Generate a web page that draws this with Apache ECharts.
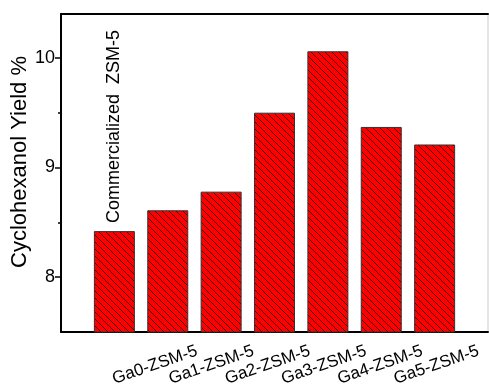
<!DOCTYPE html>
<html>
<head>
<meta charset="utf-8">
<script src="https://cdn.jsdelivr.net/npm/echarts@6/dist/echarts.min.js"></script>
<style>html,body{margin:0;padding:0;background:#fff;}#c{width:489px;height:391px;}</style>
</head>
<body>
<div id="c"></div>
<script>
// ---- data ----
var categories = ['Commercialized  ZSM-5', 'Ga0-ZSM-5', 'Ga1-ZSM-5', 'Ga2-ZSM-5', 'Ga3-ZSM-5', 'Ga4-ZSM-5', 'Ga5-ZSM-5'];
var positions = [1, 2, 3, 4, 5, 6, 7];
var yieldValues = [8.42, 8.61, 8.78, 9.50, 10.06, 9.37, 9.21];
var yTicks = [8, 9, 10];
var yMinorTicks = [8.5, 9.5];
var xLabelNames = ['Ga0-ZSM-5', 'Ga1-ZSM-5', 'Ga2-ZSM-5', 'Ga3-ZSM-5', 'Ga4-ZSM-5', 'Ga5-ZSM-5'];
var xLabelPositions = [2, 3, 4, 5, 6, 7];

// hatch pattern
function makeHatch() {
  var p = 7;
  var cv = document.createElement('canvas');
  cv.width = p; cv.height = p;
  var ctx = cv.getContext('2d');
  ctx.fillStyle = '#ff0000';
  ctx.fillRect(0, 0, p, p);
  ctx.strokeStyle = '#4a0000';
  ctx.lineWidth = 1;
  [-p, 0, p].forEach(function (k) {
    ctx.beginPath();
    ctx.moveTo(k, 0);
    ctx.lineTo(k + p, p);
    ctx.stroke();
  });
  return cv;
}
var hatch = makeHatch();

var font = 'Arial, "Liberation Sans", sans-serif';
var barData = positions.map(function (x, i) {
  var item = { value: [x, yieldValues[i]] };
  if (i === 0) {
    item.label = {
      show: true, position: 'top', rotate: 90, align: 'left', verticalAlign: 'middle',
      distance: 8, offset: [0, 0], formatter: categories[0],
      fontSize: 18, fontFamily: font, color: '#000'
    };
  }
  return item;
});

var chart = echarts.init(document.getElementById('c'), null, { renderer: 'canvas' });
chart.setOption({
  animation: false,
  backgroundColor: '#fff',
  grid: { left: 61, top: 14, right: 1, bottom: 59, show: true, borderColor: '#cccccc', borderWidth: 1, containLabel: false, outerBoundsMode: 'none' },
  xAxis: [
    {
      type: 'value', min: 0, max: 8, position: 'bottom',
      axisLine: { show: true, onZero: false, lineStyle: { color: '#000', width: 2 } },
      axisTick: { show: false }, axisLabel: { show: false }, splitLine: { show: false }
    },
    {
      type: 'value', min: 0.33, max: 7.914, position: 'bottom', gridIndex: 0,
      axisLine: { show: false }, axisTick: { show: false }, splitLine: { show: false },
      axisLabel: {
        show: true, customValues: xLabelPositions, rotate: 19, align: 'center', verticalAlign: 'middle',
        margin: 33, fontSize: 17, fontFamily: font, color: '#000', hideOverlap: false,
        formatter: function (v) {
          var idx = xLabelPositions.indexOf(Math.round(v));
          return idx >= 0 ? xLabelNames[idx] : '';
        }
      }
    },
    {
      type: 'value', min: 0, max: 8, position: 'top',
      axisLine: { show: true, onZero: false, lineStyle: { color: '#000', width: 2 } },
      axisTick: { show: false }, axisLabel: { show: false }, splitLine: { show: false }
    }
  ],
  yAxis: [
    {
      type: 'value', min: 7.5, max: 10.4, position: 'left',
      axisLine: { show: true, onZero: false, lineStyle: { color: '#000', width: 2 } },
      axisTick: { show: true, customValues: yTicks, length: 6, inside: false, lineStyle: { color: '#000', width: 1.5 } },
      axisLabel: { show: true, customValues: yTicks, margin: 6, fontSize: 18, fontFamily: font, color: '#000' },
      splitLine: { show: false }
    },
    {
      type: 'value', min: 7.5, max: 10.4, position: 'left',
      axisLine: { show: false },
      axisTick: { show: true, customValues: yMinorTicks, length: 3, inside: false, lineStyle: { color: '#000', width: 1.5 } },
      axisLabel: { show: false }, splitLine: { show: false }
    }
  ],
  graphic: [
    {
      type: 'text', x: 20, y: 162, rotation: Math.PI / 2,
      style: { text: 'Cyclohexanol Yield %', fontSize: 22, fontFamily: font, fill: '#000', align: 'center', verticalAlign: 'middle' }
    }
  ],
  series: [
    {
      type: 'bar', xAxisIndex: 0, yAxisIndex: 0, barWidth: 41,
      data: barData,
      itemStyle: { color: { image: hatch, repeat: 'repeat' }, borderColor: '#333', borderWidth: 1 }
    }
  ]
});
</script>
</body>
</html>
